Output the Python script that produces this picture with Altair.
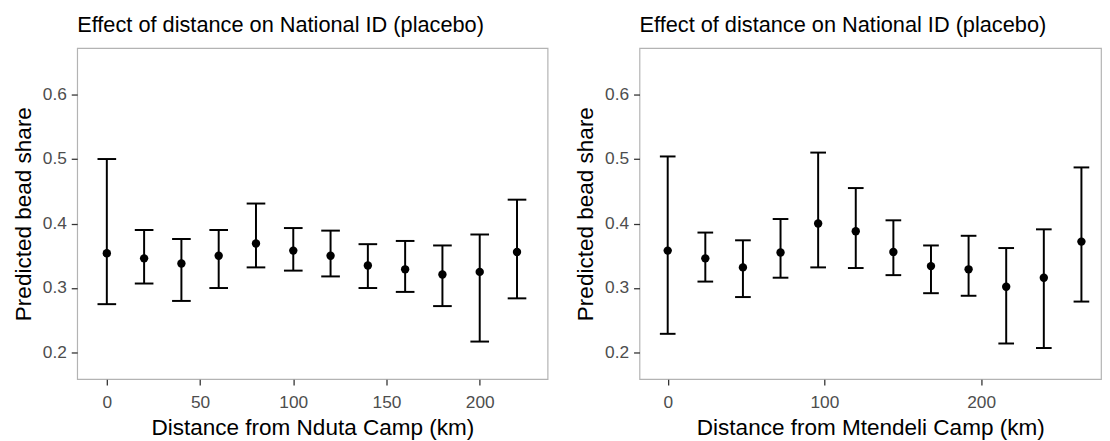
import altair as alt
import pandas as pd

# ---- data ----
nduta_km = [0, 20, 40, 60, 80, 100, 120, 140, 160, 180, 200, 220]
nduta_est = [0.354, 0.346, 0.338, 0.350, 0.369, 0.358, 0.350, 0.335, 0.329, 0.321, 0.325, 0.356]
nduta_lo = [0.275, 0.307, 0.280, 0.300, 0.332, 0.327, 0.318, 0.300, 0.294, 0.272, 0.217, 0.284]
nduta_hi = [0.500, 0.390, 0.376, 0.390, 0.431, 0.393, 0.389, 0.368, 0.373, 0.366, 0.383, 0.437]

mtendeli_km = [0, 24, 48, 72, 96, 120, 144, 168, 192, 216, 240, 264]
mtendeli_est = [0.358, 0.346, 0.332, 0.355, 0.400, 0.388, 0.356, 0.334, 0.329, 0.302, 0.316, 0.372]
mtendeli_lo = [0.229, 0.310, 0.286, 0.316, 0.332, 0.331, 0.320, 0.292, 0.288, 0.214, 0.207, 0.279]
mtendeli_hi = [0.504, 0.386, 0.374, 0.407, 0.510, 0.455, 0.405, 0.366, 0.381, 0.362, 0.391, 0.487]

title_text = "Effect of distance on National ID (placebo)"
y_title = "Predicted bead share"
y_ticks = [0.2, 0.3, 0.4, 0.5, 0.6]
cap_half = 5  # half width of the error-bar caps, km

FONT = "Liberation Sans"


def panel(km, est, lo, hi, xtitle, xdomain, xticks, width):
    df = pd.DataFrame({"km": km, "est": est, "lo": lo, "hi": hi})
    xscale = alt.Scale(domain=xdomain, nice=False, zero=False)
    yscale = alt.Scale(domain=[0.1587, 0.672], nice=False, zero=False)
    xaxis = alt.Axis(values=xticks, title=xtitle, format="d")
    yaxis = alt.Axis(values=y_ticks, title=y_title, format=".1f")

    base = alt.Chart(df).transform_calculate(
        x0=f"datum.km - {cap_half}", x1=f"datum.km + {cap_half}"
    )
    stem = base.mark_rule(color="black", strokeWidth=2).encode(
        x=alt.X("km:Q", scale=xscale, axis=xaxis),
        y=alt.Y("lo:Q", scale=yscale, axis=yaxis),
        y2="hi:Q",
    )
    cap_hi = base.mark_rule(color="black", strokeWidth=2).encode(
        x=alt.X("x0:Q", scale=xscale, axis=xaxis),
        x2="x1:Q",
        y=alt.Y("hi:Q", scale=yscale, axis=yaxis),
    )
    cap_lo = base.mark_rule(color="black", strokeWidth=2).encode(
        x=alt.X("x0:Q", scale=xscale, axis=xaxis),
        x2="x1:Q",
        y=alt.Y("lo:Q", scale=yscale, axis=yaxis),
    )
    pts = base.mark_circle(color="black", opacity=1, size=72).encode(
        x=alt.X("km:Q", scale=xscale, axis=xaxis),
        y=alt.Y("est:Q", scale=yscale, axis=yaxis),
    )
    return alt.layer(stem, cap_hi, cap_lo, pts).properties(
        width=width,
        height=335,
        title=alt.TitleParams(
            title_text,
            anchor="start",
            frame="group",
            fontSize=22,
            fontWeight="normal",
            font=FONT,
            color="black",
            baseline="alphabetic",
            offset=-6,
        ),
    )


left = panel(nduta_km, nduta_est, nduta_lo, nduta_hi,
             "Distance from Nduta Camp (km)", [-15.9, 236.4], [0, 50, 100, 150, 200], 476)
right = panel(mtendeli_km, mtendeli_est, mtendeli_lo, mtendeli_hi,
              "Distance from Mtendeli Camp (km)", [-18.0, 276.5], [0, 100, 200], 467)

chart = alt.hconcat(left, right, spacing=26).properties(
    padding={"left": 4, "top": 3, "right": 0, "bottom": 0}
).configure_view(
    stroke="#B3B3B3", strokeWidth=1.2
).configure_axis(
    domain=False,
    grid=False,
    tickColor="#333333",
    tickSize=6,
    tickWidth=1.3,
    labelColor="#4D4D4D",
    labelFont=FONT,
    labelFontSize=17.5,
    labelPadding=5,
    titleFont=FONT,
    titleFontSize=22.8,
    titleFontWeight="normal",
    titleColor="black",
).configure_axisLeft(
    titlePadding=7,
).configure_axisBottom(
    titlePadding=5,
    labelPadding=9,
)

chart.save("out.html", embed_options={"renderer": "svg", "actions": False})
